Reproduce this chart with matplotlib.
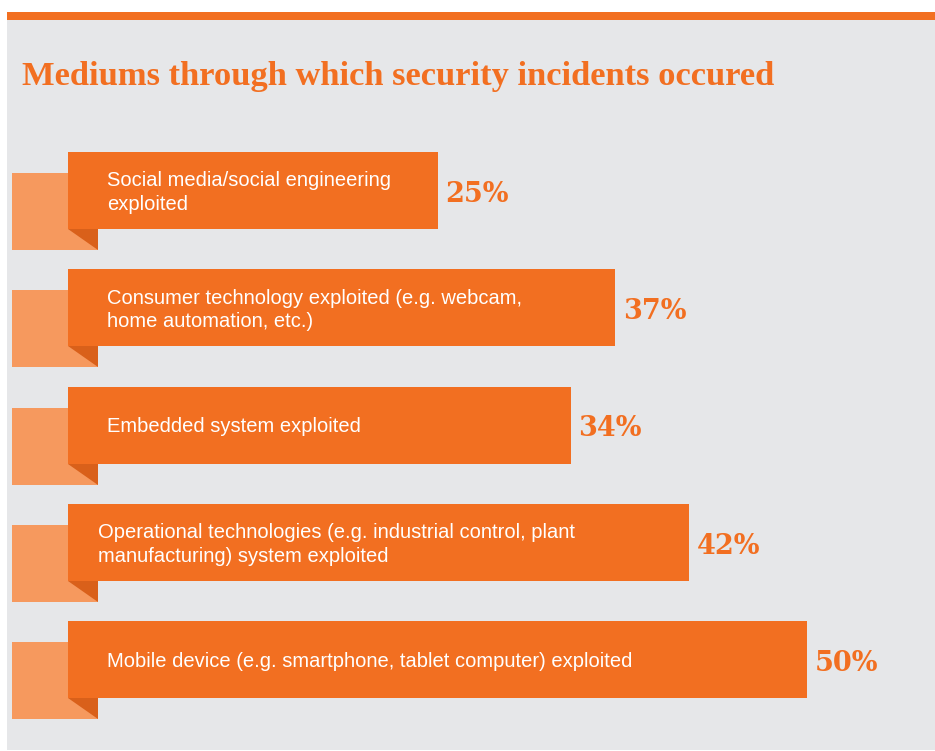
import matplotlib
matplotlib.use("Agg")
import matplotlib.pyplot as plt
from matplotlib.patches import Rectangle, Polygon

# ---- data -------------------------------------------------------------
categories = [
    "Social media/social engineering\nexploited",
    "Consumer technology exploited (e.g. webcam,\nhome automation, etc.)",
    "Embedded system exploited",
    "Operational technologies (e.g. industrial control, plant\nmanufacturing) system exploited",
    "Mobile device (e.g. smartphone, tablet computer) exploited",
]
values = [25, 37, 34, 42, 50]
value_labels = ["25%", "37%", "34%", "42%", "50%"]
title = "Mediums through which security incidents occured"

# ---- style ------------------------------------------------------------
ORANGE = "#F26F21"
TAB = "#F6995E"
FOLD = "#D9601A"
PANEL = "#E6E7E9"

W, H, DPI = 935, 751, 100
fig = plt.figure(figsize=(W / DPI, H / DPI), dpi=DPI, facecolor="white")

# panel geometry (pixels)
panel_left, panel_top, panel_bottom = 7, 20, 750
bar_x0 = 68                 # pixel where value 0 sits
px_per_unit = 14.78         # pixels per percentage point
row_px = 117.25             # pixel distance between rows
first_row_px = 190.5        # pixel centre of first row
bar_h = 77 / row_px         # bar height in row units
tab_drop = 21 / row_px      # how far the back tab hangs below the bar
tab_left = (12 - bar_x0) / px_per_unit
tab_right = (98 - bar_x0) / px_per_unit

ax = fig.add_axes([panel_left / W, (H - panel_bottom) / H,
                   (W - panel_left) / W, (panel_bottom - panel_top) / H])
ax.set_facecolor(PANEL)
xmin = -(bar_x0 - panel_left) / px_per_unit
ax.set_xlim(xmin, xmin + (W - panel_left) / px_per_unit)
ytop = -(first_row_px - panel_top) / row_px
ax.set_ylim(ytop + (panel_bottom - panel_top) / row_px, ytop)
ax.axis("off")
ax.add_patch(Rectangle((0, 0), 1, 1, transform=ax.transAxes,
                       facecolor=PANEL, edgecolor="none", zorder=0))

ypos = list(range(len(values)))

# ribbon tabs behind each bar, with the folded corner
for y in ypos:
    top = y - bar_h / 2 + tab_drop
    ax.add_patch(Rectangle((tab_left, top), tab_right - tab_left, bar_h,
                           facecolor=TAB, edgecolor="none", zorder=1))
    bot = y + bar_h / 2
    ax.add_patch(Polygon([(0, bot), (tab_right, bot), (tab_right, bot + tab_drop)],
                         closed=True, facecolor=FOLD, edgecolor="none", zorder=3))

ax.barh(ypos, values, height=bar_h, left=0, color=ORANGE, zorder=2)

# category text inside bars
text_offsets = [39, 39, 39, 30, 39]
for y, cat, off in zip(ypos, categories, text_offsets):
    ax.annotate(cat, xy=(0, y), xytext=(off, -2), textcoords="offset pixels",
                ha="left", va="center", color="white",
                fontfamily="Liberation Sans", fontsize=14.5, linespacing=1.3,
                zorder=4)

# value labels beside bars
for y, v, lab in zip(ypos, values, value_labels):
    ax.annotate(lab, xy=(v, y), xytext=(8, -4), textcoords="offset pixels",
                ha="left", va="center", color=ORANGE,
                fontfamily="DejaVu Serif", fontweight="bold", fontsize=19.5,
                zorder=4)

# top accent rule
fig.patches.append(Rectangle((panel_left / W, (H - 20) / H), (W - panel_left) / W, 8 / H,
                             transform=fig.transFigure, facecolor=ORANGE,
                             edgecolor="none"))

fig.text(22 / W, (H - 85) / H, title, ha="left", va="baseline", color=ORANGE,
         fontfamily="Liberation Serif", fontweight="bold", fontsize=24.8)

fig.savefig("out.png", dpi=DPI, facecolor="white")
